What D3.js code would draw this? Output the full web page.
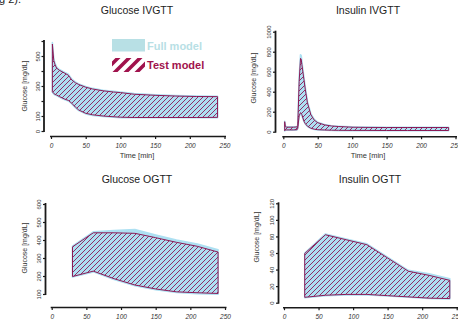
<!DOCTYPE html>
<html>
<head>
<meta charset="utf-8">
<script src="https://cdn.jsdelivr.net/npm/d3@7"></script>
<style>
  body { margin: 0; background: #fff; }
  svg { display: block; font-family: "Liberation Sans", Arial, sans-serif; }
</style>
</head>
<body>
<script>
// ---- data ----
// Glucose IVGTT
const glucIvTime      = [2, 4, 6, 8, 12, 16, 20, 25, 30, 35, 40, 50, 60, 75, 90, 100, 120, 150, 180, 210, 240];
const glucIvFullUpper = [590, 480, 450, 428, 410, 400, 390, 378, 346, 327, 314, 296, 284, 272, 264, 259, 249, 241, 236, 233, 232];
const glucIvFullLower = [258, 246, 240, 236, 226, 217, 208, 200, 180, 155, 136, 114, 104, 97, 92, 89, 88, 88, 88, 88, 88];
const glucIvTestUpper = [580, 470, 440, 420, 405, 395, 385, 372, 340, 322, 310, 292, 280, 268, 260, 256, 245, 238, 233, 230, 229];
const glucIvTestLower = [262, 250, 244, 240, 230, 221, 212, 204, 185, 160, 140, 118, 108, 100, 95, 92, 90, 90, 90, 90, 91];

// Insulin IVGTT
const insIvTime      = [2, 3, 5, 10, 15, 20, 21, 23, 25, 26, 27, 30, 32, 35, 40, 45, 50, 60, 70, 80, 100, 120, 150, 180, 210, 240];
const insIvFullUpper = [105, 55, 50, 50, 50, 52, 70, 540, 770, 760, 700, 540, 440, 305, 180, 122, 95, 72, 60, 55, 48, 46, 45, 45, 45, 45];
const insIvFullLower = [8, 14, 15, 15, 15, 17, 30, 150, 180, 175, 160, 100, 76, 52, 32, 22, 17, 14, 12, 11, 10, 10, 10, 10, 10, 10];
const insIvTestUpper = [100, 50, 45, 45, 45, 48, 60, 500, 734, 725, 670, 520, 420, 290, 170, 115, 90, 68, 57, 52, 45, 43, 42, 42, 42, 42];
const insIvTestLower = [10, 17, 18, 18, 18, 20, 35, 160, 190, 185, 170, 105, 80, 55, 35, 25, 20, 17, 15, 14, 13, 13, 12, 12, 12, 12];

// Glucose OGTT
const glucOgTime      = [30, 60, 90, 120, 150, 180, 210, 240];
const glucOgFullUpper = [366, 445, 452, 458, 428, 400, 378, 346];
const glucOgFullLower = [194, 223, 180, 146, 124, 108, 102, 99];
const glucOgTestUpper = [362, 440, 440, 437, 413, 387, 365, 333];
const glucOgTestLower = [197, 227, 185, 150, 128, 112, 107, 103];

// Insulin OGTT
const insOgTime      = [30, 60, 90, 120, 150, 180, 210, 240];
const insOgFullUpper = [60, 83, 77, 71, 55, 39, 35, 29];
const insOgFullLower = [6, 8.5, 9.5, 9.5, 8, 6.5, 5, 4.5];
const insOgTestUpper = [59.5, 82, 76, 70, 54, 38, 33, 27];
const insOgTestLower = [6.5, 9, 10, 10, 8.5, 7, 5.5, 5];

// axis ticks
const xTicks = [0, 50, 100, 150, 200, 250];
const glucIvYTicks = [0, 100, 200, 300, 400, 500, 600];
const glucIvYLabels = [0, 100, 300, 500];
const insIvYTicks = [0, 200, 400, 600, 800, 1000];
const glucOgYTicks = [100, 200, 300, 400, 500, 600];
const insOgYTicks = [0, 20, 40, 60, 80, 100, 120];

const legendLabels = ["Full model", "Test model"];

// ---- styles ----
const BLUE = "#ade0f2";
const BLUE_TXT = "#b8e0e5";
const MAG = "#8c1a56";
const MAG_TXT = "#a0124c";
const AXIS = "#1a1a1a";

const W = 458, H = 323;
const svg = d3.select("body").append("svg").attr("width", W).attr("height", H);

// hatch patterns
const defs = svg.append("defs");
defs.append("pattern")
  .attr("id", "hatch")
  .attr("patternUnits", "userSpaceOnUse")
  .attr("width", 5).attr("height", 5)
  .append("path")
  .attr("d", "M-1,1 l2,-2 M0,5 l5,-5 M4,6 l2,-2")
  .attr("stroke", MAG).attr("stroke-width", 0.9);

defs.append("pattern")
  .attr("id", "hatchBig")
  .attr("patternUnits", "userSpaceOnUse")
  .attr("width", 11).attr("height", 11)
  .append("path")
  .attr("d", "M-3,3 l6,-6 M0,11 l11,-11 M8,14 l6,-6")
  .attr("stroke", MAG_TXT).attr("stroke-width", 3.6);

// cropped text from the page above the figure
svg.append("text").attr("x", -1).attr("y", 3)
  .attr("font-size", 11).attr("fill", "#222").text("g 2).");

function panel(cfg) {
  const x = d3.scaleLinear().domain([0, 250]).range(cfg.xRange);
  const y = d3.scaleLinear().domain(cfg.yDomain).range(cfg.yRange);
  const g = svg.append("g");

  // bands
  const area = (lo, hi) => d3.area()
    .x((d, i) => x(cfg.time[i]))
    .y0((d, i) => y(lo[i]))
    .y1((d, i) => y(hi[i]))(cfg.time);

  g.append("path")
    .attr("d", area(cfg.fullLower, cfg.fullUpper))
    .attr("fill", BLUE).attr("stroke", BLUE).attr("stroke-width", 1.6)
    .attr("stroke-linejoin", "round");
  g.append("path")
    .attr("d", area(cfg.testLower, cfg.testUpper))
    .attr("fill", "url(#hatch)").attr("stroke", MAG).attr("stroke-width", 1)
    .attr("stroke-linejoin", "round");

  // y axis
  const yAx = g.append("g")
    .attr("transform", `translate(${cfg.yAxisX},0)`)
    .call(d3.axisLeft(y).tickValues(cfg.yTicks).tickSize(2.5).tickPadding(2)
      .tickFormat(v => cfg.yLabels.includes(v) ? v : ""));
  yAx.select(".domain").attr("stroke", AXIS).attr("stroke-width", 1.8)
    .attr("d", `M0,${cfg.yRange[1] - 1}V${cfg.yRange[0] + 1}`);
  yAx.selectAll(".tick line").attr("stroke", AXIS).attr("stroke-width", 1.2);
  yAx.selectAll(".tick text")
    .attr("font-size", 6).attr("fill", "#333")
    .attr("transform", "rotate(-90)")
    .attr("x", 0).attr("y", -4.5).attr("dy", 0)
    .attr("text-anchor", "middle");

  // x axis
  const xAx = g.append("g")
    .attr("transform", `translate(0,${cfg.xAxisY})`)
    .call(d3.axisBottom(x).tickValues(xTicks).tickSize(2.5).tickPadding(4));
  xAx.select(".domain").attr("stroke", AXIS).attr("stroke-width", 1.6)
    .attr("d", `M${cfg.xRange[0] - 1},0H${cfg.xRange[1] + 1.5}`);
  xAx.selectAll(".tick line").attr("stroke", AXIS).attr("stroke-width", 1.2);
  xAx.selectAll(".tick text")
    .attr("font-size", 6.5).attr("font-style", "italic").attr("fill", "#333");

  // titles
  g.append("text")
    .attr("x", cfg.titleX).attr("y", cfg.titleY)
    .attr("text-anchor", "middle").attr("font-size", 10.5).attr("fill", "#222")
    .text(cfg.title);
  g.append("text")
    .attr("transform", `translate(${cfg.yTitleX},${cfg.yTitleY}) rotate(-90)`)
    .attr("text-anchor", "middle").attr("font-size", 7).attr("fill", "#333")
    .text("Glucose [mg/dL]");
  // bottom row has its time label cropped off the picture
  if (cfg.xTitle) {
    g.append("text")
      .attr("x", cfg.titleX).attr("y", cfg.xAxisY + 21)
      .attr("text-anchor", "middle").attr("font-size", 7.5).attr("fill", "#333")
      .text("Time [min]");
  }
}

panel({
  title: "Glucose IVGTT", titleX: 137, titleY: 14, xTitle: true,
  time: glucIvTime, fullUpper: glucIvFullUpper, fullLower: glucIvFullLower,
  testUpper: glucIvTestUpper, testLower: glucIvTestLower,
  yDomain: [0, 600], yRange: [131, 41], yTicks: glucIvYTicks, yLabels: glucIvYLabels,
  xRange: [51, 224.5], yAxisX: 44, xAxisY: 136.5, yTitleX: 27, yTitleY: 86
});

panel({
  title: "Insulin IVGTT", titleX: 368, titleY: 14, xTitle: true,
  time: insIvTime, fullUpper: insIvFullUpper, fullLower: insIvFullLower,
  testUpper: insIvTestUpper, testLower: insIvTestLower,
  yDomain: [0, 1000], yRange: [131.7, 31.7], yTicks: insIvYTicks, yLabels: insIvYTicks,
  xRange: [283.3, 455.5], yAxisX: 275.5, xAxisY: 136.7, yTitleX: 256, yTitleY: 78
});

panel({
  title: "Glucose OGTT", titleX: 137, titleY: 183, xTitle: false,
  time: glucOgTime, fullUpper: glucOgFullUpper, fullLower: glucOgFullLower,
  testUpper: glucOgTestUpper, testLower: glucOgTestLower,
  yDomain: [100, 600], yRange: [294, 204], yTicks: glucOgYTicks, yLabels: glucOgYTicks,
  xRange: [51.7, 225], yAxisX: 45.5, xAxisY: 307.5, yTitleX: 27, yTitleY: 248
});

panel({
  title: "Insulin OGTT", titleX: 370, titleY: 183, xTitle: false,
  time: insOgTime, fullUpper: insOgFullUpper, fullLower: insOgFullLower,
  testUpper: insOgTestUpper, testLower: insOgTestLower,
  yDomain: [0, 120], yRange: [302.7, 203.3], yTicks: insOgYTicks, yLabels: insOgYTicks,
  xRange: [284, 456.7], yAxisX: 278.5, xAxisY: 307.7, yTitleX: 259, yTitleY: 237
});

// legend (top-left panel)
const leg = svg.append("g");
leg.selectAll("rect")
  .data(legendLabels)
  .enter().append("rect")
  .attr("x", 112).attr("y", (d, i) => 39 + i * 19)
  .attr("width", 33).attr("height", (d, i) => i ? 14 : 12.5)
  .attr("fill", (d, i) => i ? "url(#hatchBig)" : BLUE_TXT);
leg.selectAll("text")
  .data(legendLabels)
  .enter().append("text")
  .attr("x", 147).attr("y", (d, i) => 50 + i * 19)
  .attr("font-size", 11).attr("font-weight", "bold")
  .attr("fill", (d, i) => i ? MAG_TXT : BLUE_TXT)
  .text(d => d);
</script>
</body>
</html>
